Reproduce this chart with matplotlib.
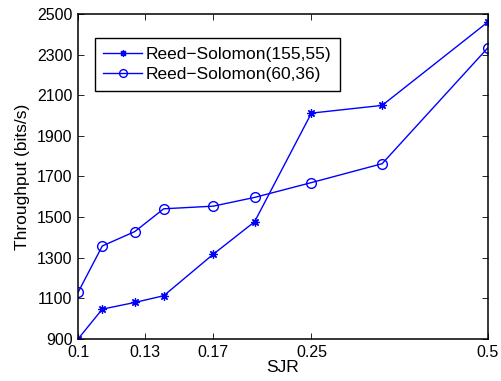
import numpy as np
import matplotlib
matplotlib.use('Agg')
import matplotlib.pyplot as plt

plt.rcParams['font.family'] = ['Liberation Sans', 'DejaVu Sans']

# SJR values (linear ratio) and throughput for both codes
sjr = [0.1, 0.11, 0.125, 0.14, 0.17, 0.2, 0.25, 0.33, 0.5]
rs_155_55 = [900, 1047, 1080, 1113, 1317, 1477, 2012, 2050, 2461]
rs_60_36 = [1129, 1358, 1429, 1541, 1554, 1597, 1670, 1763, 2334]

xticks = [0.1, 0.13, 0.17, 0.25, 0.5]
xticklabels = ['0.1', '0.13', '0.17', '0.25', '0.5']
yticks = [900, 1100, 1300, 1500, 1700, 1900, 2100, 2300, 2500]

fig = plt.figure(figsize=(5.01, 3.81), dpi=100)
ax = fig.add_axes([0.1557, 0.1102, 0.8183, 0.8531])

ax.plot(sjr, rs_155_55, color='blue', lw=1, marker=(8, 2, 0), ms=6, mew=0.9,
        label='Reed\u2212Solomon(155,55)')
ax.plot(sjr, rs_60_36, color='blue', lw=1, marker='o', ms=7, mfc='none', mew=1,
        label='Reed\u2212Solomon(60,36)')

ax.set_xscale('log')
ax.set_xlim(0.1, 0.5)
ax.set_ylim(900, 2500)
ax.set_xticks(xticks)
ax.set_xticklabels(xticklabels)
ax.minorticks_off()
ax.set_yticks(yticks)
ax.tick_params(direction='in', top=True, right=True, labelsize=11.5, length=4, width=0.6, pad=4)
for s in ax.spines.values():
    s.set_linewidth(1.1)

ax.set_xlabel('SJR', fontsize=12.5, labelpad=0)
ax.set_ylabel('Throughput (bits/s)', fontsize=12.5, labelpad=5)

leg = ax.legend(loc='upper left', bbox_to_anchor=(0.041, 0.926), borderaxespad=0,
                fontsize=12.5, fancybox=False, edgecolor='black', framealpha=1,
                handlelength=2.2, handletextpad=0.25, borderpad=0.5, labelspacing=0.3,
                markerscale=0.8)
leg.get_frame().set_linewidth(1.0)

fig.savefig('out.png', dpi=100)
